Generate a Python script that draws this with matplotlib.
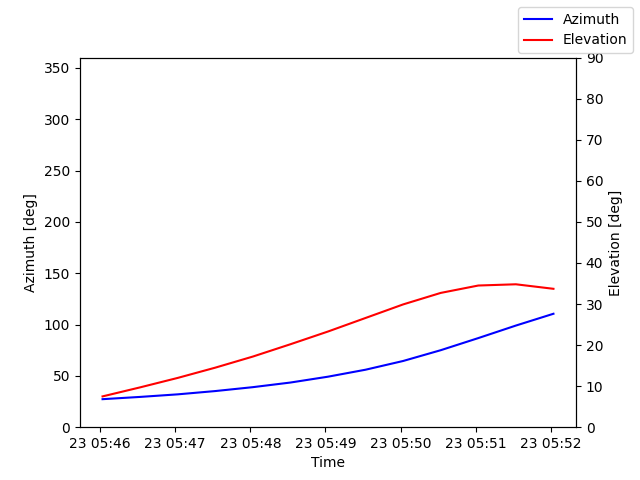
import matplotlib
matplotlib.use("Agg")
import matplotlib.pyplot as plt
import numpy as np
from datetime import datetime, timedelta

# pass samples every 30 s
start = datetime(2024, 3, 23, 5, 46, 2)
times = [start + timedelta(seconds=30 * i) for i in range(13)]
azimuth = [27.3, 29.5, 32.0, 35.2, 39.0, 43.5, 49.2, 56.0, 64.5, 75.0, 86.8, 99.0, 110.5]
elevation = [7.5, 9.7, 12.0, 14.5, 17.2, 20.2, 23.3, 26.6, 29.9, 32.7, 34.5, 34.8, 33.7]

fig, ax1 = plt.subplots(figsize=(6.4, 4.8), dpi=100)
ax1.plot(times, azimuth, 'b', label='Azimuth')
ax1.set_ylim(0, 360)
ax1.set_xlabel('Time')
ax1.set_ylabel('Azimuth [deg]')

ax2 = ax1.twinx()
ax2.plot(times, elevation, 'r', label='Elevation')
ax2.set_ylim(0, 90)
ax2.set_ylabel('Elevation [deg]')

fig.legend(loc='upper right')
fig.savefig('out.png')
